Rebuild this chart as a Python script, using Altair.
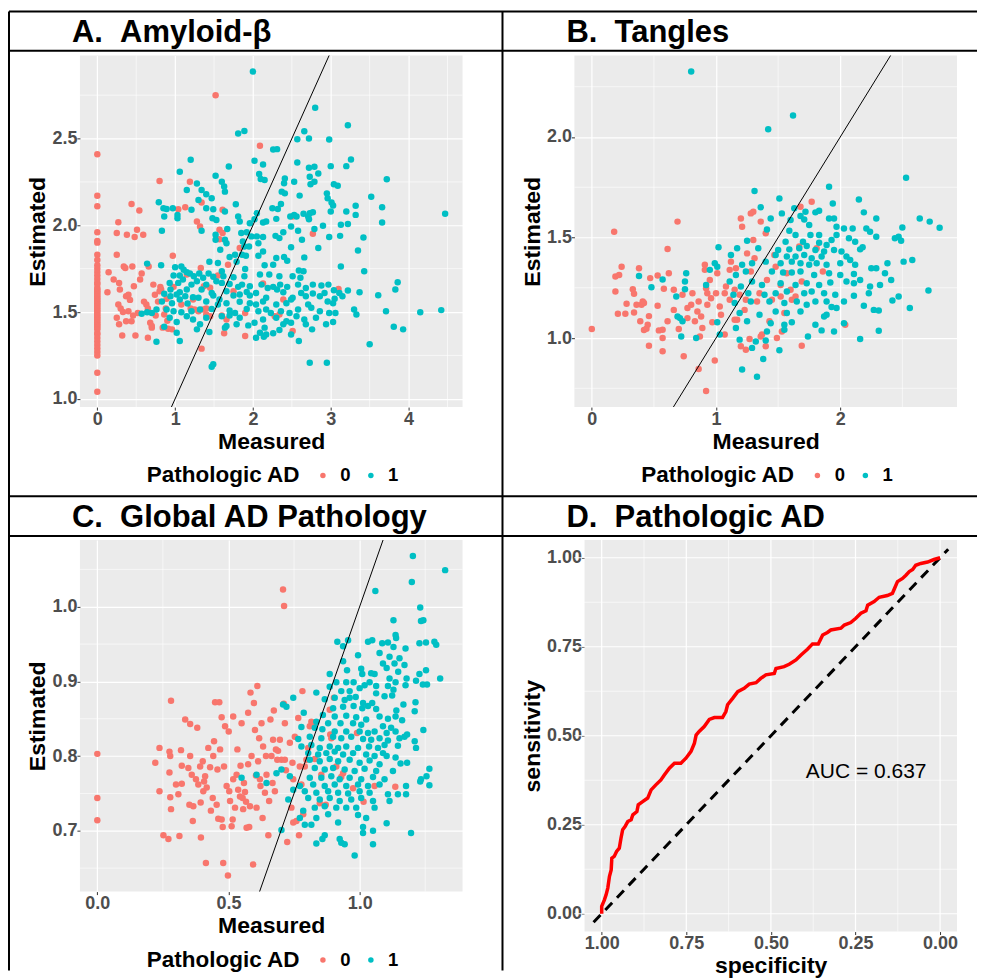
import altair as alt
import pandas as pd

FONT = "Liberation Sans"
RED = "#F8766D"
TEAL = "#00BFC4"
NB = "\u00a0"

# ---------------- Panel A: Amyloid-beta ----------------
A_TITLE = "A." + NB + NB + "Amyloid-\u03b2"
A_RED_AT_ZERO = [2.41, 2.17, 2.11, 1.96, 1.91, 1.90, 1.83, 1.80, 1.77, 1.75, 1.73, 1.71, 1.69, 1.67, 1.66,
                 1.64, 1.63, 1.62, 1.61, 1.60, 1.59, 1.58, 1.57, 1.56, 1.55, 1.54, 1.53, 1.52, 1.51, 1.50,
                 1.49, 1.48, 1.47, 1.46, 1.45, 1.44, 1.43, 1.42, 1.41, 1.40, 1.38, 1.37, 1.35, 1.33, 1.31,
                 1.29, 1.27, 1.25, 1.15, 1.04]
A_RED = [(0.145, 1.729), (0.13, 1.614), (0.21, 1.687), (0.27, 2.018), (0.25, 1.955), (0.25, 1.83), (0.28, 1.668),
         (0.29, 1.63), (0.27, 1.543), (0.25, 1.467), (0.28, 1.429), (0.32, 1.365), (0.34, 1.763), (0.36, 1.754),
         (0.38, 1.945), (0.37, 1.591), (0.40, 1.505), (0.37, 1.447), (0.44, 2.123), (0.44, 1.447), (0.45, 1.763),
         (0.47, 1.649), (0.48, 1.932), (0.51, 1.974), (0.49, 1.365), (0.52, 1.495), (0.54, 2.085), (0.55, 1.687),
         (0.57, 1.722), (0.59, 1.945), (0.63, 1.543), (0.65, 1.352), (0.66, 1.763), (0.68, 1.438), (0.70, 1.41),
         (0.72, 1.658), (0.74, 1.60), (0.80, 2.255), (0.81, 1.645), (0.82, 1.63), (0.84, 1.41), (0.86, 1.486),
         (0.89, 1.576), (0.91, 1.404), (0.96, 1.40), (0.97, 1.825), (0.98, 1.645), (1.04, 2.093), (1.08, 1.543),
         (1.13, 2.104), (1.15, 1.716), (1.19, 2.251), (1.23, 1.572), (1.25, 1.515), (1.28, 2.022), (1.30, 1.505),
         (1.32, 1.993), (1.33, 1.754), (1.34, 2.131), (1.34, 1.289), (1.36, 1.515), (1.37, 1.649), (1.40, 1.486),
         (1.45, 1.64), (1.45, 1.476), (1.52, 2.749), (1.55, 1.71), (1.57, 1.974), (1.57, 1.92), (1.61, 2.089),
         (1.61, 1.955), (1.63, 1.377), (1.66, 1.457), (1.68, 1.773), (1.75, 1.62), (1.83, 1.869), (1.90, 1.362),
         (1.90, 1.495), (2.09, 2.458), (2.13, 1.664), (2.28, 1.476), (2.34, 1.486), (2.39, 1.572), (2.51, 1.39),
         (2.51, 2.05), (2.77, 1.951), (3.10, 1.633), (0.30, 1.52), (0.33, 1.50), (0.40, 1.60), (0.42, 1.57),
         (0.46, 1.48), (0.60, 1.56), (0.65, 1.52), (0.70, 1.42), (0.75, 1.48), (0.78, 1.56), (0.80, 1.62),
         (0.88, 1.52), (0.90, 1.45), (1.20, 1.52), (1.40, 1.52), (1.60, 1.48)]
A_TEAL = [(2.00, 2.886), (2.80, 2.678), (3.22, 2.577), (1.81, 2.529), (1.89, 2.544), (2.66, 2.542), (2.57, 2.496),
          (2.72, 2.50), (2.98, 2.494), (2.26, 2.437), (2.31, 2.439), (1.20, 2.378), (1.69, 2.339), (2.02, 2.372),
          (2.13, 2.351), (2.57, 2.362), (2.72, 2.332), (2.79, 2.337), (3.00, 2.341), (3.20, 2.341), (3.26, 2.379),
          (1.06, 2.309), (1.52, 2.286), (2.08, 2.295), (2.10, 2.267), (2.15, 2.261), (2.41, 2.27), (2.53, 2.251),
          (2.73, 2.28), (2.84, 2.299), (2.79, 2.251), (3.72, 2.265), (1.28, 2.241), (1.60, 2.251), (1.63, 2.223),
          (2.40, 2.242), (2.74, 2.236), (3.04, 2.236), (3.09, 2.228), (1.15, 2.203), (1.34, 2.203), (1.40, 2.179),
          (1.47, 2.156), (1.64, 2.194), (2.37, 2.194), (2.41, 2.184), (2.95, 2.184), (2.60, 2.171), (2.96, 2.156),
          (3.52, 2.165), (0.79, 2.133), (1.30, 2.146), (0.85, 2.098), (0.89, 2.094), (0.97, 2.098), (1.40, 2.098),
          (1.49, 2.093), (1.78, 2.121), (2.36, 2.123), (2.25, 2.098), (2.32, 2.094), (3.01, 2.131), (3.03, 2.114),
          (3.32, 2.112), (3.66, 2.104), (1.03, 2.06), (1.03, 2.04), (0.86, 2.05), (1.21, 2.09), (1.64, 2.079),
          (2.05, 2.07), (2.53, 2.06), (2.65, 2.066), (2.73, 2.07), (2.77, 2.075), (3.00, 2.079), (3.20, 2.079),
          (3.32, 2.06), (4.47, 2.066), (1.48, 2.04), (1.53, 2.031), (1.81, 2.05), (1.83, 2.022), (2.02, 2.035),
          (2.13, 2.016), (2.17, 2.022), (2.30, 2.037), (2.48, 2.05), (2.56, 2.05), (2.71, 2.05), (2.72, 2.035),
          (3.13, 2.003), (3.22, 2.008), (3.66, 2.016), (0.83, 1.968), (1.34, 1.968), (1.52, 1.945), (1.67, 1.978),
          (1.85, 1.955), (1.92, 1.96), (1.96, 2.012), (1.98, 1.936), (2.05, 1.936), (2.07, 1.897), (2.13, 1.932),
          (2.29, 1.939), (2.34, 1.926), (2.39, 1.96), (2.49, 1.993), (2.58, 1.968), (2.63, 1.916), (2.79, 1.978),
          (2.90, 1.997), (2.98, 1.932), (3.12, 1.939), (3.42, 1.93), (1.52, 1.917), (1.64, 1.917), (1.66, 1.897),
          (1.58, 1.859), (1.87, 1.907), (1.89, 1.878), (1.95, 1.878), (2.13, 1.849), (2.49, 1.874), (2.84, 1.869),
          (3.35, 1.855), (1.70, 1.817), (1.77, 1.83), (1.86, 1.83), (1.91, 1.825), (2.07, 1.825), (2.30, 1.811),
          (2.40, 1.817), (2.44, 1.796), (2.66, 1.815), (1.44, 1.79), (1.55, 1.783), (1.79, 1.79), (2.15, 1.769),
          (2.26, 1.773), (0.64, 1.779), (0.82, 1.769), (1.00, 1.758), (1.08, 1.763), (1.15, 1.729), (1.90, 1.748),
          (2.59, 1.74), (2.65, 1.735), (3.13, 1.763), (3.43, 1.735), (0.98, 1.71), (1.06, 1.71), (1.11, 1.744),
          (1.19, 1.722), (1.24, 1.706), (1.31, 1.722), (1.36, 1.697), (1.43, 1.722), (1.49, 1.703), (1.60, 1.735),
          (1.62, 1.706), (1.75, 1.70), (1.89, 1.706), (2.09, 1.716), (2.21, 1.716), (2.34, 1.706), (2.51, 1.706),
          (2.61, 1.697), (0.93, 1.668), (1.04, 1.668), (1.10, 1.687), (1.21, 1.658), (1.28, 1.677), (1.40, 1.658),
          (1.53, 1.677), (1.60, 1.668), (1.70, 1.662), (1.81, 1.645), (1.86, 1.658), (1.96, 1.649), (2.11, 1.658),
          (2.19, 1.639), (2.26, 1.645), (2.31, 1.63), (2.35, 1.658), (2.44, 1.645), (2.58, 1.658), (2.68, 1.639),
          (2.77, 1.658), (2.88, 1.653), (2.97, 1.658), (3.86, 1.671), (3.83, 1.63), (3.22, 1.624), (3.37, 1.614),
          (3.61, 1.597), (0.94, 1.63), (1.06, 1.614), (1.15, 1.63), (1.34, 1.63), (1.47, 1.61), (1.66, 1.62),
          (1.92, 1.616), (2.04, 1.61), (2.39, 1.614), (2.62, 1.61), (2.77, 1.607), (2.92, 1.61), (3.04, 1.626),
          (3.11, 1.61), (3.15, 1.591), (0.86, 1.605), (0.94, 1.591), (1.02, 1.601), (1.13, 1.591), (1.23, 1.585),
          (1.30, 1.582), (1.49, 1.595), (1.57, 1.572), (1.75, 1.595), (1.83, 1.601), (1.96, 1.595), (2.17, 1.582),
          (2.51, 1.582), (2.68, 1.591), (2.86, 1.591), (3.05, 1.576), (0.83, 1.561), (0.96, 1.551), (1.06, 1.572),
          (1.16, 1.549), (1.40, 1.561), (1.55, 1.543), (1.66, 1.551), (1.83, 1.559), (1.96, 1.551), (2.04, 1.543),
          (2.13, 1.561), (2.30, 1.543), (2.43, 1.551), (2.49, 1.572), (2.71, 1.543), (2.96, 1.561), (3.03, 1.551),
          (0.57, 1.49), (0.64, 1.499), (0.76, 1.515), (0.89, 1.515), (0.98, 1.505), (1.08, 1.499), (1.21, 1.505),
          (1.32, 1.515), (1.47, 1.518), (1.70, 1.509), (1.77, 1.495), (1.92, 1.518), (2.07, 1.505), (2.17, 1.515),
          (2.23, 1.495), (2.36, 1.505), (2.47, 1.495), (2.58, 1.515), (2.75, 1.524), (2.86, 1.505), (2.98, 1.495),
          (3.06, 1.495), (3.30, 1.515), (3.33, 1.486), (3.71, 1.505), (4.15, 1.499), (4.42, 1.511), (0.70, 1.495),
          (0.93, 1.467), (1.15, 1.476), (1.23, 1.457), (1.40, 1.467), (1.60, 1.476), (1.70, 1.48), (1.83, 1.467),
          (2.13, 1.457), (2.30, 1.467), (2.43, 1.447), (2.56, 1.476), (2.66, 1.457), (2.81, 1.467), (1.02, 1.442),
          (1.32, 1.429), (1.66, 1.419), (1.79, 1.429), (1.94, 1.423), (2.02, 1.438), (2.15, 1.41), (2.39, 1.429),
          (2.49, 1.438), (2.68, 1.429), (2.94, 1.429), (3.03, 1.442), (0.86, 1.415), (1.28, 1.40), (1.44, 1.385),
          (1.64, 1.41), (2.09, 1.381), (2.17, 1.371), (2.26, 1.377), (2.34, 1.396), (2.76, 1.40), (3.81, 1.415),
          (3.93, 1.40), (1.02, 1.381), (0.76, 1.329), (1.06, 1.333), (2.04, 1.352), (2.14, 1.358), (2.49, 1.371),
          (2.59, 1.333), (3.50, 1.314), (1.49, 1.199), (1.47, 1.184), (2.73, 1.208), (2.95, 1.208)]
A_XDOM, A_YDOM = [-0.2235, 4.6935], [0.952, 2.979]
A_XTICKS, A_YTICKS = [0, 1, 2, 3, 4], [1.0, 1.5, 2.0, 2.5]
A_XMINOR, A_YMINOR = [0.5, 1.5, 2.5, 3.5, 4.5], [1.25, 1.75, 2.25, 2.75]

# ---------------- Panel B: Tangles ----------------
B_TITLE = "B." + NB + NB + "Tangles"
B_RED = [(0, 1.045), (0.18, 1.529), (0.19, 1.306), (0.22, 1.314), (0.24, 1.355), (0.19, 1.231), (0.21, 1.121),
         (0.27, 1.121), (0.28, 1.17), (0.33, 1.243), (0.34, 1.22), (0.36, 1.165), (0.34, 1.127), (0.38, 1.347),
         (0.39, 1.083), (0.40, 1.165), (0.41, 1.182), (0.42, 1.04), (0.44, 1.046), (0.42, 1.174), (0.45, 1.066),
         (0.46, 1.109), (0.47, 1.298), (0.46, 0.962), (0.53, 1.311), (0.53, 1.16), (0.54, 1.038), (0.57, 1.041),
         (0.57, 1.0), (0.57, 0.934), (0.58, 1.245), (0.61, 1.443), (0.62, 1.322), (0.61, 1.083), (0.66, 1.24),
         (0.66, 1.14), (0.69, 1.579), (0.70, 1.045), (0.73, 1.215), (0.74, 0.909), (0.77, 1.099), (0.77, 1.149),
         (0.80, 1.165), (0.81, 1.223), (0.83, 1.083), (0.85, 1.132), (0.86, 1.182), (0.86, 0.846), (0.87, 1.008),
         (0.88, 1.107), (0.89, 1.05), (0.91, 1.339), (0.91, 1.364), (0.92, 0.736), (0.92, 1.248), (0.93, 1.165),
         (0.95, 1.289), (0.96, 1.198), (0.97, 1.079), (0.99, 0.888), (1.00, 1.223), (1.01, 1.322), (1.03, 1.157),
         (1.04, 1.116), (1.07, 1.017), (1.08, 1.256), (1.11, 1.19), (1.11, 1.339), (1.12, 1.38), (1.15, 1.24),
         (1.16, 1.347), (1.17, 1.091), (1.19, 1.215), (1.20, 1.595), (1.21, 1.554), (1.20, 0.959), (1.23, 1.14),
         (1.24, 0.942), (1.25, 1.421), (1.27, 0.995), (1.28, 1.331), (1.28, 1.62), (1.30, 1.628), (1.30, 1.488),
         (1.31, 1.397), (1.33, 1.182), (1.35, 1.223), (1.36, 1.579), (1.36, 1.008), (1.37, 1.017), (1.40, 0.959),
         (1.40, 1.521), (1.41, 1.289), (1.43, 1.083), (1.45, 1.19), (1.47, 1.413), (1.48, 1.355), (1.49, 1.0),
         (1.52, 1.207), (1.52, 1.264), (1.53, 1.033), (1.55, 1.124), (1.60, 1.24), (1.61, 1.19), (1.64, 1.207),
         (1.67, 1.455), (1.68, 1.653), (1.69, 0.962), (1.69, 1.281), (1.77, 1.678), (1.81, 1.446), (1.86, 1.331),
         (2.04, 1.066), (1.57, 1.322), (1.24, 1.19), (1.15, 1.091), (1.07, 1.223), (0.93, 1.223)]
B_TEAL = [(0.80, 2.326), (1.62, 2.107), (1.42, 2.038), (2.53, 1.797), (1.91, 1.752), (1.31, 1.731), (1.51, 1.694),
          (2.15, 1.689), (1.94, 1.669), (1.36, 1.65), (1.63, 1.645), (1.72, 1.628), (1.80, 1.625), (1.83, 1.633),
          (2.19, 1.625), (1.53, 1.62), (1.68, 1.607), (1.71, 1.59), (1.44, 1.595), (1.91, 1.595), (1.95, 1.595),
          (2.29, 1.595), (2.64, 1.595), (2.72, 1.579), (2.80, 1.549), (1.60, 1.587), (1.75, 1.562), (1.41, 1.54),
          (1.59, 1.534), (1.97, 1.554), (2.03, 1.545), (2.10, 1.545), (2.21, 1.545), (2.24, 1.529), (2.50, 1.55),
          (2.29, 1.504), (2.44, 1.496), (2.47, 1.504), (2.49, 1.484), (1.64, 1.512), (1.76, 1.512), (1.83, 1.512),
          (1.93, 1.488), (1.97, 1.512), (2.07, 1.496), (2.12, 1.479), (1.25, 1.484), (1.56, 1.479), (1.70, 1.479),
          (1.83, 1.474), (1.89, 1.463), (1.02, 1.451), (1.17, 1.446), (1.34, 1.446), (1.50, 1.438), (1.59, 1.441),
          (1.67, 1.446), (1.73, 1.458), (1.80, 1.438), (1.87, 1.43), (1.95, 1.438), (2.01, 1.43), (2.16, 1.441),
          (2.18, 1.451), (1.12, 1.413), (1.48, 1.413), (1.57, 1.405), (1.64, 1.405), (1.71, 1.413), (1.77, 1.397),
          (1.85, 1.405), (2.05, 1.405), (2.08, 1.388), (1.21, 1.364), (1.29, 1.372), (1.40, 1.38), (1.52, 1.372),
          (1.61, 1.38), (1.68, 1.372), (1.75, 1.364), (1.81, 1.372), (1.89, 1.364), (2.00, 1.372), (2.12, 1.364),
          (2.38, 1.372), (2.51, 1.38), (2.58, 1.388), (0.99, 1.372), (1.01, 1.355), (0.38, 1.309), (0.57, 1.291),
          (0.76, 1.322), (0.95, 1.339), (1.16, 1.314), (1.24, 1.331), (1.45, 1.331), (1.54, 1.326), (1.61, 1.326),
          (1.68, 1.331), (1.79, 1.314), (1.91, 1.322), (2.00, 1.314), (2.11, 1.319), (2.25, 1.347), (2.29, 1.347),
          (2.36, 1.322), (2.41, 1.289), (0.48, 1.253), (0.75, 1.281), (0.92, 1.264), (1.11, 1.281), (1.20, 1.256),
          (1.29, 1.281), (1.37, 1.264), (1.52, 1.273), (1.64, 1.264), (1.73, 1.273), (1.83, 1.264), (1.92, 1.276),
          (2.05, 1.281), (2.11, 1.273), (2.16, 1.289), (2.24, 1.256), (2.32, 1.264), (2.71, 1.236), (0.75, 1.243),
          (1.14, 1.215), (1.26, 1.223), (1.39, 1.215), (1.48, 1.223), (1.57, 1.231), (1.71, 1.223), (1.77, 1.231),
          (1.87, 1.223), (1.96, 1.215), (2.11, 1.21), (2.23, 1.223), (2.47, 1.207), (0.68, 1.207), (0.69, 1.107),
          (0.71, 1.099), (1.15, 1.174), (1.28, 1.182), (1.43, 1.182), (1.55, 1.174), (1.65, 1.182), (1.73, 1.165),
          (1.80, 1.182), (1.89, 1.182), (2.03, 1.182), (2.42, 1.187), (2.19, 1.16), (2.27, 1.14), (2.31, 1.137),
          (2.56, 1.149), (1.97, 1.149), (1.93, 1.154), (1.19, 1.124), (1.35, 1.116), (1.48, 1.132), (1.57, 1.124),
          (1.68, 1.132), (1.87, 1.107), (1.89, 1.116), (0.73, 1.083), (1.01, 1.079), (1.25, 1.083), (1.44, 1.074),
          (1.55, 1.066), (1.61, 1.079), (1.80, 1.066), (2.03, 1.074), (1.16, 1.05), (1.41, 1.033), (1.55, 1.041),
          (1.85, 1.038), (1.95, 1.033), (2.31, 1.036), (0.72, 1.008), (0.84, 1.0), (1.03, 1.017), (1.19, 0.992),
          (1.32, 0.983), (1.40, 0.988), (1.74, 1.008), (2.16, 0.995), (1.29, 0.951), (1.51, 0.939), (1.38, 0.896),
          (1.21, 0.843), (1.33, 0.807)]
B_XDOM, B_YDOM = [-0.14, 2.94], [0.6565, 2.4055]
B_XTICKS, B_YTICKS = [0, 1, 2], [1.0, 1.5, 2.0]
B_XMINOR, B_YMINOR = [0.5, 1.5, 2.5], [0.75, 1.25, 1.75, 2.25]

# ---------------- Panel C: Global AD Pathology ----------------
C_TITLE = "C." + NB + NB + "Global AD Pathology"
C_RED = [(0, 0.803), (0, 0.744), (0, 0.714), (0.281, 0.874), (0.221, 0.791), (0.237, 0.811), (0.237, 0.753),
         (0.252, 0.694), (0.271, 0.689), (0.275, 0.806), (0.278, 0.800), (0.275, 0.778), (0.278, 0.745),
         (0.281, 0.729), (0.300, 0.762), (0.309, 0.749), (0.313, 0.693), (0.319, 0.808), (0.322, 0.787),
         (0.322, 0.763), (0.335, 0.849), (0.347, 0.784), (0.351, 0.735), (0.354, 0.800), (0.354, 0.843),
         (0.360, 0.775), (0.364, 0.713), (0.366, 0.733), (0.376, 0.769), (0.381, 0.838), (0.385, 0.762),
         (0.392, 0.786), (0.394, 0.738), (0.395, 0.691), (0.402, 0.793), (0.404, 0.753), (0.407, 0.766),
         (0.411, 0.773), (0.414, 0.657), (0.417, 0.758), (0.423, 0.811), (0.430, 0.785), (0.433, 0.727),
         (0.440, 0.744), (0.442, 0.800), (0.445, 0.820), (0.449, 0.872), (0.455, 0.735), (0.458, 0.782),
         (0.461, 0.716), (0.465, 0.872), (0.468, 0.809), (0.474, 0.852), (0.474, 0.715), (0.478, 0.705),
         (0.480, 0.657), (0.483, 0.786), (0.487, 0.840), (0.493, 0.760), (0.498, 0.640), (0.501, 0.833),
         (0.503, 0.753), (0.506, 0.740), (0.512, 0.706), (0.516, 0.715), (0.518, 0.853), (0.518, 0.769),
         (0.525, 0.731), (0.531, 0.775), (0.534, 0.809), (0.537, 0.755), (0.544, 0.746), (0.546, 0.787),
         (0.550, 0.844), (0.554, 0.744), (0.556, 0.729), (0.559, 0.764), (0.563, 0.752), (0.567, 0.739),
         (0.569, 0.704), (0.575, 0.789), (0.575, 0.858), (0.579, 0.705), (0.582, 0.733), (0.584, 0.885),
         (0.588, 0.800), (0.594, 0.655), (0.597, 0.871), (0.601, 0.835), (0.605, 0.774), (0.607, 0.731),
         (0.610, 0.894), (0.613, 0.793), (0.617, 0.824), (0.620, 0.769), (0.622, 0.760), (0.626, 0.844),
         (0.630, 0.717), (0.632, 0.813), (0.639, 0.751), (0.643, 0.800), (0.645, 0.775), (0.652, 0.694),
         (0.655, 0.740), (0.660, 0.849), (0.664, 0.800), (0.668, 0.764), (0.670, 0.822), (0.673, 0.861),
         (0.677, 0.753), (0.681, 0.809), (0.686, 0.795), (0.689, 0.807), (0.696, 0.822), (0.702, 0.795),
         (0.708, 1.023), (0.712, 1.001), (0.711, 0.870), (0.715, 0.844), (0.715, 0.795), (0.724, 0.685),
         (0.734, 0.818), (0.740, 0.731), (0.744, 0.791), (0.747, 0.711), (0.753, 0.826), (0.759, 0.713),
         (0.766, 0.851), (0.769, 0.694), (0.772, 0.786), (0.778, 0.762), (0.782, 0.887), (0.785, 0.722),
         (0.791, 0.786), (0.797, 0.795), (0.804, 0.811), (0.810, 0.840), (0.816, 0.846), (0.823, 0.844),
         (0.829, 0.796), (0.848, 0.737), (0.854, 0.775), (0.871, 0.735), (0.886, 0.862), (0.888, 0.829),
         (0.892, 0.824), (0.902, 0.878), (0.911, 0.786), (0.930, 0.772), (0.937, 0.777), (0.975, 0.757),
         (0.990, 0.831), (1.015, 0.739), (1.057, 0.760), (1.136, 0.759), (0.747, 0.769), (0.719, 0.781)]
C_TEAL = [(1.203, 1.068), (1.326, 1.049), (1.199, 1.033), (1.060, 1.021), (1.231, 0.999), (1.234, 0.981),
          (1.243, 0.982), (1.129, 0.982), (1.137, 0.962), (1.139, 0.958), (0.956, 0.955), (0.915, 0.953),
          (1.032, 0.953), (1.048, 0.955), (1.086, 0.951), (1.108, 0.952), (1.228, 0.951), (1.253, 0.952),
          (1.285, 0.953), (1.292, 0.949), (1.129, 0.946), (1.175, 0.944), (0.937, 0.947), (0.994, 0.935),
          (1.076, 0.938), (1.114, 0.933), (1.152, 0.931), (0.937, 0.927), (1.089, 0.924), (1.133, 0.924),
          (1.171, 0.922), (0.952, 0.915), (1.006, 0.917), (1.103, 0.918), (1.147, 0.913), (1.253, 0.915),
          (0.886, 0.910), (1.010, 0.910), (1.044, 0.911), (1.057, 0.910), (1.228, 0.910), (1.114, 0.904),
          (1.179, 0.904), (1.307, 0.904), (1.215, 0.901), (1.241, 0.896), (1.257, 0.896), (0.911, 0.899),
          (0.949, 0.899), (0.977, 0.899), (1.019, 0.895), (1.038, 0.899), (1.063, 0.894), (1.108, 0.894),
          (1.137, 0.899), (1.175, 0.895), (0.886, 0.893), (0.835, 0.885), (0.930, 0.887), (0.962, 0.887),
          (1.000, 0.891), (1.063, 0.884), (1.129, 0.889), (1.095, 0.880), (1.124, 0.881), (0.747, 0.878),
          (0.867, 0.876), (0.905, 0.878), (0.943, 0.875), (0.962, 0.878), (0.985, 0.879), (1.013, 0.871),
          (1.032, 0.867), (1.048, 0.871), (1.167, 0.869), (1.213, 0.872), (0.708, 0.869), (0.721, 0.866),
          (0.899, 0.864), (0.937, 0.866), (0.977, 0.867), (1.010, 0.864), (1.063, 0.863), (1.140, 0.861),
          (1.210, 0.860), (0.787, 0.858), (0.860, 0.855), (0.905, 0.853), (0.949, 0.854), (0.987, 0.852),
          (1.025, 0.849), (1.076, 0.853), (1.108, 0.850), (1.137, 0.853), (1.162, 0.848), (0.835, 0.846),
          (0.880, 0.844), (0.927, 0.844), (0.975, 0.844), (1.006, 0.842), (1.089, 0.840), (1.120, 0.838),
          (0.778, 0.839), (0.829, 0.838), (0.858, 0.836), (0.905, 0.833), (0.949, 0.833), (1.000, 0.833),
          (1.032, 0.831), (1.057, 0.833), (1.103, 0.831), (1.137, 0.833), (1.181, 0.829), (1.243, 0.835),
          (0.810, 0.826), (0.854, 0.824), (0.899, 0.826), (0.930, 0.824), (0.968, 0.826), (1.013, 0.823),
          (1.044, 0.822), (1.076, 0.824), (1.108, 0.821), (1.152, 0.824), (1.171, 0.826), (1.210, 0.820),
          (0.766, 0.823), (0.778, 0.813), (0.816, 0.815), (0.848, 0.811), (0.886, 0.813), (0.918, 0.811),
          (0.949, 0.813), (0.994, 0.811), (1.036, 0.813), (1.070, 0.811), (1.095, 0.815), (1.146, 0.814),
          (1.215, 0.811), (0.804, 0.804), (0.842, 0.802), (0.873, 0.804), (0.905, 0.806), (0.937, 0.802),
          (0.975, 0.804), (1.025, 0.802), (1.057, 0.800), (1.089, 0.804), (1.103, 0.800), (1.137, 0.798),
          (1.266, 0.783), (0.810, 0.795), (0.848, 0.793), (0.886, 0.796), (0.918, 0.793), (0.962, 0.795),
          (1.000, 0.791), (1.038, 0.794), (1.076, 0.789), (1.156, 0.790), (1.181, 0.791), (0.702, 0.782),
          (0.683, 0.777), (0.829, 0.784), (0.867, 0.782), (0.899, 0.784), (0.943, 0.782), (0.981, 0.780),
          (1.019, 0.783), (1.063, 0.780), (1.127, 0.780), (0.607, 0.775), (0.550, 0.771), (0.734, 0.773),
          (0.810, 0.771), (0.854, 0.771), (0.892, 0.773), (0.924, 0.769), (0.962, 0.771), (1.006, 0.769),
          (1.051, 0.772), (1.095, 0.769), (1.234, 0.769), (1.255, 0.773), (0.645, 0.764), (0.772, 0.760),
          (0.823, 0.762), (0.867, 0.760), (0.905, 0.762), (0.949, 0.760), (0.994, 0.762), (1.032, 0.760),
          (1.076, 0.762), (1.177, 0.760), (1.231, 0.766), (1.266, 0.761), (0.747, 0.755), (0.791, 0.753),
          (0.835, 0.751), (0.880, 0.753), (0.918, 0.751), (0.956, 0.750), (1.000, 0.753), (1.038, 0.751),
          (1.108, 0.749), (1.146, 0.749), (1.177, 0.749), (0.728, 0.742), (0.804, 0.744), (0.848, 0.742),
          (0.886, 0.744), (0.924, 0.740), (0.968, 0.742), (1.006, 0.744), (1.051, 0.740), (1.114, 0.740),
          (0.829, 0.731), (0.867, 0.733), (0.911, 0.731), (0.949, 0.731), (0.987, 0.731), (1.057, 0.731),
          (0.785, 0.727), (0.772, 0.717), (0.835, 0.717), (0.880, 0.722), (0.994, 0.721), (1.025, 0.717),
          (0.791, 0.708), (0.816, 0.708), (0.918, 0.711), (1.013, 0.705), (1.103, 0.710), (0.702, 0.701),
          (1.013, 0.697), (1.051, 0.700), (1.196, 0.697), (0.867, 0.694), (0.858, 0.689), (0.835, 0.683),
          (0.924, 0.689), (0.930, 0.684), (0.943, 0.682), (1.051, 0.682), (0.981, 0.667)]
C_XDOM, C_YDOM = [-0.0663, 1.3923], [0.6186, 1.0894]
C_XTICKS, C_YTICKS = [0.0, 0.5, 1.0], [0.7, 0.8, 0.9, 1.0]
C_XMINOR, C_YMINOR = [0.25, 0.75, 1.25], [0.65, 0.75, 0.85, 0.95, 1.05]

# ---------------- Panel D: ROC for Pathologic AD ----------------
D_TITLE = "D." + NB + NB + "Pathologic AD"
ROC_SPEC = [1.0, 1.0, 1.0, 0.992, 0.987, 0.982, 0.977, 0.972, 0.970, 0.963, 0.956, 0.948, 0.943, 0.938, 0.931,
            0.923, 0.913, 0.908, 0.896, 0.892, 0.879, 0.864, 0.854, 0.840, 0.825, 0.815, 0.800, 0.785, 0.766,
            0.751, 0.736, 0.726, 0.721, 0.712, 0.697, 0.682, 0.667, 0.643, 0.633, 0.628, 0.613, 0.598, 0.579,
            0.564, 0.544, 0.530, 0.515, 0.490, 0.485, 0.461, 0.446, 0.426, 0.411, 0.392, 0.377, 0.360, 0.347,
            0.333, 0.323, 0.293, 0.283, 0.264, 0.249, 0.234, 0.219, 0.214, 0.195, 0.180, 0.156, 0.141, 0.136,
            0.126, 0.111, 0.101, 0.091, 0.081, 0.072, 0.057, 0.037, 0.018, 0.0]
ROC_SENS = [0.0, 0.007, 0.021, 0.039, 0.053, 0.072, 0.105, 0.123, 0.156, 0.161, 0.175, 0.184, 0.212, 0.236, 0.245,
            0.259, 0.264, 0.278, 0.287, 0.306, 0.315, 0.325, 0.348, 0.362, 0.376, 0.390, 0.409, 0.423, 0.423,
            0.437, 0.456, 0.479, 0.502, 0.512, 0.526, 0.546, 0.551, 0.551, 0.568, 0.587, 0.605, 0.624, 0.633,
            0.645, 0.649, 0.661, 0.671, 0.675, 0.689, 0.694, 0.701, 0.713, 0.727, 0.743, 0.758, 0.758, 0.783,
            0.790, 0.797, 0.802, 0.811, 0.818, 0.830, 0.844, 0.851, 0.867, 0.877, 0.889, 0.894, 0.900, 0.911,
            0.933, 0.942, 0.951, 0.961, 0.967, 0.979, 0.984, 0.988, 0.995, 1.0]
CHANCE_SPEC = [1.024, -0.024]
CHANCE_SENS = [-0.024, 1.024]
AUC_LABEL = "AUC = 0.637"
AUC_POS = (0.2185, 0.397)
D_XDOM, D_YDOM = [1.0806, -0.05], [-0.05, 1.05]
D_PANEL_X, D_PANEL_Y = [1.0506, -0.05], [-0.05, 1.05]
D_TICKS = [0.0, 0.25, 0.5, 0.75, 1.0]
D_MINOR = [0.125, 0.375, 0.625, 0.875]

LEGEND_TITLE = "Pathologic AD"

W, H = 383, 352
ONE = pd.DataFrame({"k": [0]})


def title_layer(text):
    return alt.Chart(pd.DataFrame({"t": [text]})).mark_text(
        align="left", baseline="alphabetic", fontSize=31, fontWeight="bold", font=FONT, color="black"
    ).encode(text="t:N", x=alt.value(-8), y=alt.value(-13))


def scatter_panel(title, red, teal, xdom, ydom, xticks, yticks, xminor, yminor, xfmt, yfmt, extra=()):
    rows = [(x, y, "0") for x, y in red] + [(x, y, "1") for x, y in teal]
    df = pd.DataFrame(rows, columns=["Measured", "Estimated", "AD"])
    xs = alt.Scale(domain=xdom, nice=False, zero=False)
    ys = alt.Scale(domain=ydom, nice=False, zero=False)
    xax = alt.Axis(values=xticks, format=xfmt, title="Measured")
    yax = alt.Axis(values=yticks, format=yfmt, title="Estimated")
    minor_x = alt.Chart(pd.DataFrame({"Measured": xminor})).mark_rule(color="white", strokeWidth=0.6).encode(
        x=alt.X("Measured:Q", scale=xs, axis=xax))
    minor_y = alt.Chart(pd.DataFrame({"Estimated": yminor})).mark_rule(color="white", strokeWidth=0.6).encode(
        y=alt.Y("Estimated:Q", scale=ys, axis=yax))
    pts = alt.Chart(df).mark_circle(size=42, opacity=1).encode(
        x=alt.X("Measured:Q", scale=xs, axis=xax),
        y=alt.Y("Estimated:Q", scale=ys, axis=yax),
        color=alt.Color("AD:N", scale=alt.Scale(domain=["0", "1"], range=[RED, TEAL]),
                        legend=alt.Legend(title=LEGEND_TITLE, orient="none", legendX=67, legendY=411,
                                          direction="horizontal", titleOrient="left")),
    )
    lo = min(xdom[0], ydom[0]) - 1
    hi = max(xdom[1], ydom[1]) + 1
    ident = alt.Chart(pd.DataFrame({"Measured": [lo, hi], "Estimated": [lo, hi]})).mark_line(
        color="black", strokeWidth=1, clip=True).encode(
        x=alt.X("Measured:Q", scale=xs, axis=xax), y=alt.Y("Estimated:Q", scale=ys, axis=yax))
    return alt.layer(minor_x, minor_y, pts, ident, title_layer(title), *extra).properties(width=W, height=H)


def hline(y, x1, x2):
    return alt.Chart(ONE).mark_rule(color="black", strokeWidth=2).encode(
        x=alt.value(x1), x2=alt.value(x2), y=alt.value(y))


def vline(x, y1, y2):
    return alt.Chart(ONE).mark_rule(color="black", strokeWidth=2).encode(
        x=alt.value(x), y=alt.value(y1), y2=alt.value(y2))


borders = [hline(-44, -71, 898), hline(-4.7, -71, 898), hline(441.3, -71, 898), hline(481, -71, 898),
           vline(-71, -44, 916), vline(423, -44, 916)]

panel_a = scatter_panel(A_TITLE, [(0.0, y) for y in A_RED_AT_ZERO] + A_RED, A_TEAL, A_XDOM, A_YDOM,
                        A_XTICKS, A_YTICKS, A_XMINOR, A_YMINOR, "d", ".1f", extra=borders)
panel_b = scatter_panel(B_TITLE, B_RED, B_TEAL, B_XDOM, B_YDOM, B_XTICKS, B_YTICKS, B_XMINOR, B_YMINOR,
                        "d", ".1f")
panel_c = scatter_panel(C_TITLE, C_RED, C_TEAL, C_XDOM, C_YDOM, C_XTICKS, C_YTICKS, C_XMINOR, C_YMINOR,
                        ".1f", ".1f")

# Panel D
dxs = alt.Scale(domain=D_XDOM, nice=False, zero=False)
dys = alt.Scale(domain=D_YDOM, nice=False, zero=False)
dxax = alt.Axis(values=D_TICKS, format=".2f", title="specificity", grid=False, titleX=196.5)
dyax = alt.Axis(values=D_TICKS, format=".2f", title="sensitivity", grid=False, offset=-10)


def dx(field):
    return alt.X(field, type="quantitative", scale=dxs, axis=dxax, title="specificity")


def dy(field):
    return alt.Y(field, type="quantitative", scale=dys, axis=dyax, title="sensitivity")


d_bg = alt.Chart(pd.DataFrame({"specificity": [D_PANEL_X[0]], "x2": [D_PANEL_X[1]],
                               "sensitivity": [D_PANEL_Y[0]], "y2": [D_PANEL_Y[1]]})
                 ).mark_rect(color="#EBEBEB").encode(
    x=dx("specificity"), x2="x2:Q", y=dy("sensitivity"), y2="y2:Q")
d_minor_x = alt.Chart(pd.DataFrame({"specificity": D_MINOR})).mark_rule(color="white", strokeWidth=0.6).encode(
    x=dx("specificity"))
d_minor_y = alt.Chart(pd.DataFrame({"sensitivity": D_MINOR})).mark_rule(color="white", strokeWidth=0.6).encode(
    y=dy("sensitivity"))
d_major_x = alt.Chart(pd.DataFrame({"specificity": D_TICKS})).mark_rule(color="white", strokeWidth=1.2).encode(
    x=dx("specificity"))
d_major_y = alt.Chart(pd.DataFrame({"sensitivity": D_TICKS})).mark_rule(color="white", strokeWidth=1.2).encode(
    y=dy("sensitivity"))
d_chance = alt.Chart(pd.DataFrame({"specificity": CHANCE_SPEC, "sensitivity": CHANCE_SENS})).mark_line(
    color="black", strokeWidth=3, strokeDash=[10, 7]).encode(x=dx("specificity"), y=dy("sensitivity"))
d_roc = alt.Chart(pd.DataFrame({"specificity": ROC_SPEC, "sensitivity": ROC_SENS,
                                "order": list(range(len(ROC_SPEC)))})).mark_line(
    color="#FF0000", strokeWidth=3.5).encode(x=dx("specificity"), y=dy("sensitivity"), order="order:Q")
d_auc = alt.Chart(pd.DataFrame({"specificity": [AUC_POS[0]], "sensitivity": [AUC_POS[1]], "t": [AUC_LABEL]})
                  ).mark_text(fontSize=21, font=FONT, color="black", align="center", baseline="middle").encode(
    x=dx("specificity"), y=dy("sensitivity"), text="t:N")
panel_d = alt.layer(d_bg, d_minor_x, d_minor_y, d_major_x, d_major_y, d_chance, d_roc, d_auc,
                    title_layer(D_TITLE)).properties(
    width=W, height=392, view=alt.ViewBackground(fill="transparent", strokeWidth=0))

chart = alt.concat(panel_a, panel_b, panel_c, panel_d, columns=2,
                   spacing={"row": 133, "column": 112}, bounds="flush").resolve_scale(
    color="independent").properties(
    padding={"left": 0, "top": 2, "right": 0, "bottom": 0}
).configure(font=FONT).configure_view(
    fill="#EBEBEB", strokeWidth=0
).configure_axis(
    labelFont=FONT, labelFontSize=18, labelFontWeight="bold", labelColor="#4D4D4D", labelPadding=0,
    titleFont=FONT, titleFontSize=23, titleFontWeight="bold", titleColor="black", titlePadding=2,
    gridColor="white", gridWidth=1.2, tickColor="#333333", tickSize=3, tickWidth=1, domain=False
).configure_legend(
    titleFont=FONT, titleFontSize=22.5, titleFontWeight="bold", titleColor="black", titlePadding=13,
    labelFont=FONT, labelFontSize=18.5, labelFontWeight="bold", labelColor="black", labelOffset=8,
    columnPadding=11, padding=0, symbolSize=30, symbolType="circle", symbolStrokeWidth=0
)

chart.save("out.html", embed_options={"renderer": "svg", "actions": False})
